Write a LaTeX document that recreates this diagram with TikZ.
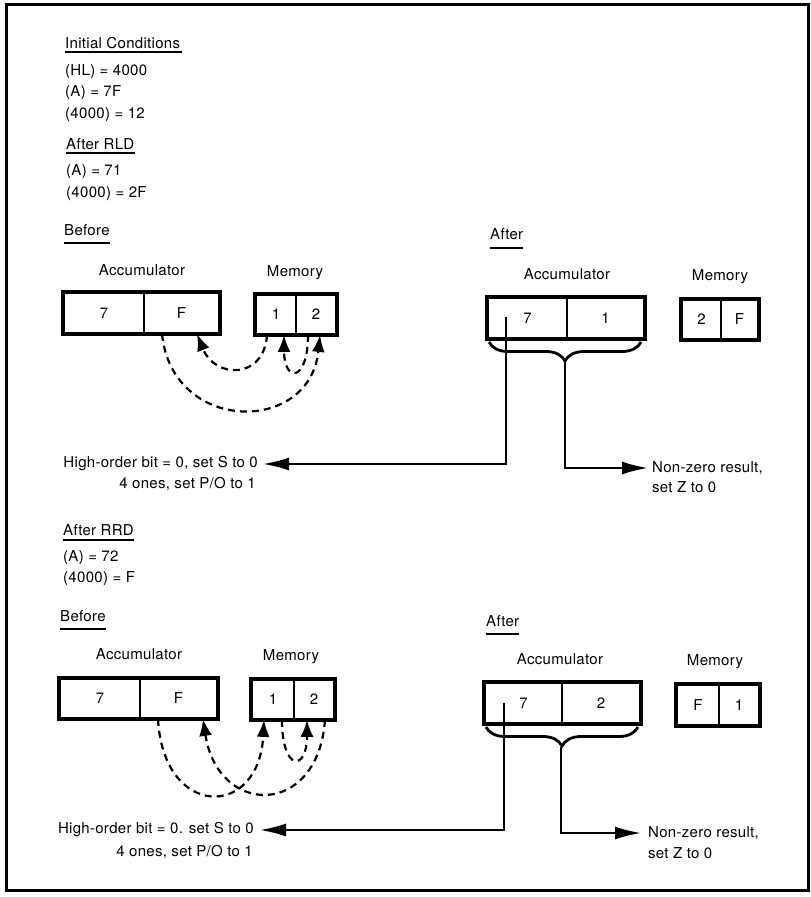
\documentclass[tikz,border=0pt]{standalone}
\usepackage{fontspec}
\setmainfont{TeX Gyre Heros}[LetterSpace=2]
\usetikzlibrary{arrows.meta,decorations.pathreplacing}
\begin{document}
\begin{tikzpicture}[x=1pt,y=-1pt,
  every node/.style={font=\fontsize{15}{17}\selectfont, inner sep=0pt},
  txt/.style={anchor=base west},
  lbl/.style={anchor=base},
  cell/.style={draw, line width=1.8pt, minimum height=40pt},
  outer/.style={line width=3.6pt},
  uline/.style={line width=1.2pt},
  dasharrow/.style={line width=2.2pt, dash pattern=on 7pt off 5pt, -{Latex[length=17pt,width=13pt]}},
  solidarrow/.style={line width=2.1pt, -{Latex[length=26pt,width=13pt]}},
  curly/.style={line width=2.8pt, decorate, decoration={brace, amplitude=19pt}}
]
\useasboundingbox (0,0) rectangle (811,897);
\draw[line width=3pt] (6,4) rectangle (808,890);

% ---------- RLD texts ----------
\node[txt] (ic) at (65,48) {Initial Conditions};
\draw[uline] ([yshift=-4pt]ic.base west) -- ([yshift=-4pt,xshift=2pt]ic.base east);
\node[txt] (hl) at (65,75) {(HL) = 4000};
\node[txt] (a7f) at (65,96) {(A) = 7F};
\node[txt] (m12) at (65,118) {(4000) = 12};
\node[txt] (arld) at (66,149) {After RLD};
\draw[uline] ([yshift=-4pt]arld.base west) -- ([yshift=-4pt]arld.base east);
\node[txt] (a71) at (66,175) {(A) = 71};
\node[txt] (m2f) at (66,197) {(4000) = 2F};

\node[txt] (bef1) at (64,235) {Before};
\draw[uline] ([yshift=-8pt]bef1.base west) -- ([yshift=-8pt]bef1.base east);
\node[txt] (aft1) at (490,239) {After};
\draw[uline] ([yshift=-9pt]aft1.base west) -- ([yshift=-9pt]aft1.base east);

\node[lbl] (acl1) at (142,275) {Accumulator};
\node[lbl] (mel1) at (295,276) {Memory};
\node[lbl] (acl2) at (567,279) {Accumulator};
\node[lbl] (mel2) at (720,280) {Memory};

% ---------- RLD before boxes ----------
\node[cell, minimum width=80pt] (a7) at (104,313) {7};
\node[cell, minimum width=75pt] (aF) at (181.5,313) {F};
\draw[outer] (a7.north west) rectangle (aF.south east);
\node[cell, minimum width=40pt, minimum height=39pt] (m1) at (276,314.5) {1};
\node[cell, minimum width=40pt, minimum height=39pt] (m2) at (316,314.5) {2};
\draw[outer] (m1.north west) rectangle (m2.south east);

\draw[dasharrow] ([xshift=-9pt]m1.south) .. controls +(-3,45) and +(18,45) .. ([xshift=15.5pt]aF.south);
\draw[dasharrow] ([xshift=-8pt]m2.south) .. controls +(0,48) and +(0,48) .. ([xshift=8pt]m1.south);
\draw[dasharrow] ([xshift=-19.5pt]aF.south) .. controls +(10,100) and +(-10,100) .. ([xshift=4pt]m2.south);

% ---------- RLD after boxes ----------
\node[cell, minimum width=79pt] (b7) at (527.5,318) {7};
\node[cell, minimum width=77pt] (b1) at (605.5,318) {1};
\draw[outer] (b7.north west) rectangle (b1.south east);
\node[cell, minimum width=39pt, minimum height=39pt] (n2) at (701.5,319.5) {2};
\node[cell, minimum width=37pt, minimum height=39pt] (nF) at (739.5,319.5) {F};
\draw[outer] (n2.north west) rectangle (nF.south east);

\draw[curly] (641,342) -- (489,342);
\coordinate (bt1) at (565,362);
\coordinate (l1) at (506,317);
\coordinate (c1) at (506,464);
\coordinate (c2) at (565,468);

\node[anchor=east] (ho1) at (258,464) {High-order bit = 0, set S to 0};
\node[anchor=base east] (ho2) at (256,488) {4 ones, set P/O to 1};
\node[anchor=west] (nz1) at (652,468) {Non-zero result,};
\node[txt] (nz2) at (652,492) {set Z to 0};

\draw[solidarrow] (l1) -- (c1) -- ([xshift=5pt]ho1.east);
\draw[solidarrow] (bt1) -- (c2) -- ([xshift=-4pt]nz1.west);

% ---------- RRD texts ----------
\node[txt] (arrd) at (63,535) {After RRD};
\draw[uline] ([yshift=-5pt]arrd.base west) -- ([yshift=-5pt]arrd.base east);
\node[txt] (a72) at (63,561) {(A) = 72};
\node[txt] (mf) at (63,582) {(4000) = F};

\node[txt] (bef2) at (60,621) {Before};
\draw[uline] ([yshift=-8pt]bef2.base west) -- ([yshift=-8pt]bef2.base east);
\node[txt] (aft2) at (486,626) {After};
\draw[uline] ([yshift=-8pt]aft2.base west) -- ([yshift=-8pt]aft2.base east);

\node[lbl] (acl3) at (139,659) {Accumulator};
\node[lbl] (mel3) at (291,660) {Memory};
\node[lbl] (acl4) at (560,664) {Accumulator};
\node[lbl] (mel4) at (715,665) {Memory};

% ---------- RRD before boxes ----------
\node[cell, minimum width=80pt, minimum height=39pt] (c7) at (100,698.5) {7};
\node[cell, minimum width=77pt, minimum height=39pt] (cF) at (178.5,698.5) {F};
\draw[outer] (c7.north west) rectangle (cF.south east);
\node[cell, minimum width=42pt, minimum height=39pt] (p1) at (273,699.5) {1};
\node[cell, minimum width=40pt, minimum height=39pt] (p2) at (314,699.5) {2};
\draw[outer] (p1.north west) rectangle (p2.south east);

\draw[dasharrow] ([xshift=-20.5pt]cF.south) .. controls +(5,100) and +(-5,100) .. ([xshift=-9pt]p1.south);
\draw[dasharrow] ([xshift=11pt]p2.south) .. controls +(-7,98) and +(15,98) .. ([xshift=24.5pt]cF.south);
\draw[dasharrow] ([xshift=9pt]p1.south) .. controls +(0,52) and +(0,52) .. ([xshift=-7pt]p2.south);

% ---------- RRD after boxes ----------
\node[cell, minimum width=77pt] (d7) at (523.5,703) {7};
\node[cell, minimum width=78pt] (d2) at (601,703) {2};
\draw[outer] (d7.north west) rectangle (d2.south east);
\node[cell, minimum width=42pt] (qF) at (698,705) {F};
\node[cell, minimum width=40pt] (q1) at (739,705) {1};
\draw[outer] (qF.north west) rectangle (q1.south east);

\draw[curly] (638,727) -- (486,727);
\coordinate (bt2) at (561,747);
\coordinate (l2) at (504,703);
\coordinate (c3) at (504,830);
\coordinate (c4) at (561,833);

\node[anchor=east] (ho3) at (254,830) {High-order bit = 0. set S to 0};
\node[anchor=base east] (ho4) at (253,856) {4 ones, set P/O to 1};
\node[anchor=west] (nz3) at (648,833) {Non-zero result,};
\node[txt] (nz4) at (648,858) {set Z to 0};

\draw[solidarrow] (l2) -- (c3) -- ([xshift=6pt]ho3.east);
\draw[solidarrow] (bt2) -- (c4) -- ([xshift=-7pt]nz3.west);
\end{tikzpicture}
\end{document}
